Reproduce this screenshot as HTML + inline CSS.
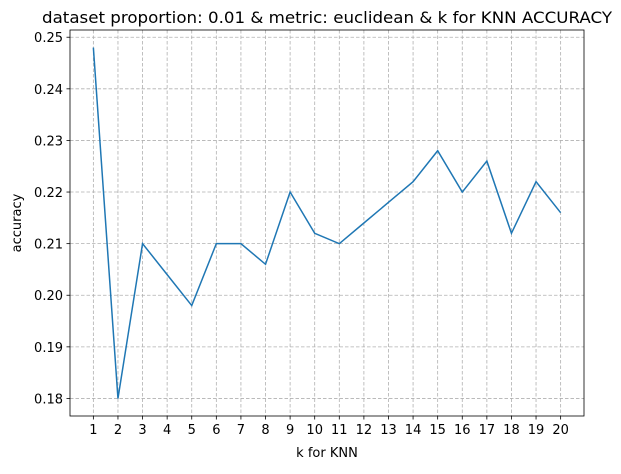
<!DOCTYPE html>
<html><head><meta charset="utf-8"><style>
body{margin:0;background:#fff;font-family:"DejaVu Sans","Liberation Sans",sans-serif}
</style></head><body>
<svg width="621" height="470" xmlns="http://www.w3.org/2000/svg" font-family="DejaVu Sans, Liberation Sans, sans-serif">
<g id="grid"></g>
<g id="ticks"></g>
<polyline id="line" fill="none" stroke="#1f77b4" stroke-width="1.5"/>
<rect x="70" y="30" width="514" height="386" fill="none" stroke="#000" stroke-width="0.8"/>
<text x="327" y="23" text-anchor="middle" font-size="16" textLength="570" lengthAdjust="spacingAndGlyphs">dataset proportion: 0.01 &amp; metric: euclidean &amp; k for KNN ACCURACY</text>
<text x="327" y="457" text-anchor="middle" font-size="13">k for KNN</text>
<text x="21" y="223" text-anchor="middle" font-size="13" transform="rotate(-90 21 223)">accuracy</text>
</svg>
<script>
const kValues=[1,2,3,4,5,6,7,8,9,10,11,12,13,14,15,16,17,18,19,20];
const accuracy=[0.248,0.180,0.210,0.204,0.198,0.210,0.210,0.206,0.220,0.212,0.210,0.214,0.218,0.222,0.228,0.220,0.226,0.212,0.222,0.216];
const yTicks=[0.18,0.19,0.20,0.21,0.22,0.23,0.24,0.25];
const L=70,R=584,T=30,B=416;
const xmin=0.05,xmax=20.95,ymin=0.1766,ymax=0.2514;
const xs=v=>L+(v-xmin)/(xmax-xmin)*(R-L);
const ys=v=>B-(v-ymin)/(ymax-ymin)*(B-T);
const NS="http://www.w3.org/2000/svg";
const grid=document.getElementById('grid'),ticks=document.getElementById('ticks');
function mk(tag,a,p){const e=document.createElementNS(NS,tag);for(const k in a)e.setAttribute(k,a[k]);p.appendChild(e);return e;}
kValues.forEach(k=>{const x=xs(k);
const g=mk('line',{x1:x,x2:x,y1:T,y2:B,stroke:'#b0b0b0','stroke-width':0.8,'stroke-dasharray':'3.5,2'},grid);


const t=mk('line',{x1:x,x2:x,y1:B,y2:B+3.5,stroke:'#000','stroke-width':0.8},ticks);


const l=mk('text',{x:x,y:B+18,'text-anchor':'middle','font-size':13},ticks);l.textContent=k;

});
yTicks.forEach(v=>{const y=ys(v);
const g=mk('line',{x1:L,x2:R,y1:y,y2:y,stroke:'#b0b0b0','stroke-width':0.8,'stroke-dasharray':'3.5,2'},grid);


const t=mk('line',{x1:L-3.5,x2:L,y1:y,y2:y,stroke:'#000','stroke-width':0.8},ticks);


const l=mk('text',{x:L-7,y:y+5,'text-anchor':'end','font-size':13},ticks);l.textContent=v.toFixed(2);

});
document.getElementById('line').setAttribute('points',kValues.map((k,i)=>xs(k)+','+ys(accuracy[i])).join(' '));
</script>
</body></html>
